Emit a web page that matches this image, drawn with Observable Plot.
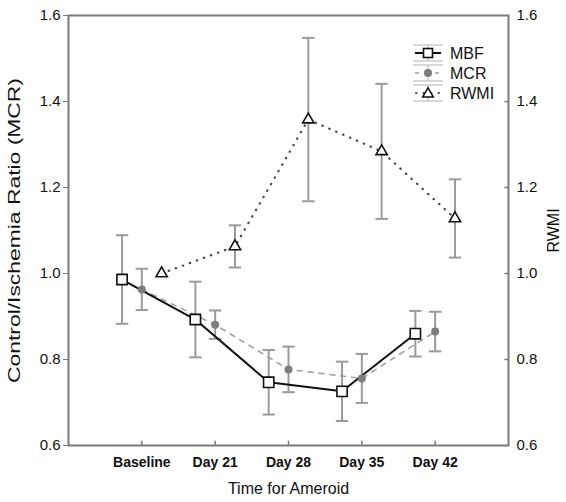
<!DOCTYPE html>
<html>
<head>
<meta charset="utf-8">
<script src="https://cdn.jsdelivr.net/npm/d3@7"></script>
<script src="https://cdn.jsdelivr.net/npm/@observablehq/plot@0.6"></script>
<style>
  html, body { margin: 0; padding: 0; background: #fff; }
  #chart { position: relative; width: 566px; height: 502px; font-family: "Liberation Sans", Arial, sans-serif; }
  #legend { position: absolute; left: 405px; top: 38px; }
</style>
</head>
<body>
<div id="chart"></div>
<script>
// ---- data ----
const categories = ["Baseline", "Day 21", "Day 28", "Day 35", "Day 42"];
const mbfMean  = [0.986, 0.893, 0.747, 0.726, 0.860];
const mbfErr   = [0.103, 0.088, 0.075, 0.069, 0.053];
const mcrMean  = [0.963, 0.881, 0.777, 0.756, 0.865];
const mcrErr   = [0.048, 0.033, 0.053, 0.057, 0.046];
const rwmiMean = [1.000, 1.063, 1.358, 1.284, 1.128];
const rwmiErr  = [0.000, 0.049, 0.190, 0.157, 0.091];
const yTicks   = [0.6, 0.8, 1.0, 1.2, 1.4, 1.6];
const seriesNames = ["MBF", "MCR", "RWMI"];
const xTitle = "Time for Ameroid";
const yTitleLeft = "Control/Ischemia Ratio (MCR)";
const yTitleRight = "RWMI";

// ---- build table ----
const offsets = {MBF: -0.27, MCR: 0, RWMI: 0.27};
function build(name, means, errs) {
  return categories.map((c, i) => ({
    series: name, cat: c, pos: i + 1 + offsets[name],
    y: means[i], lo: means[i] - errs[i], hi: means[i] + errs[i], err: errs[i]
  }));
}
const mbf = build("MBF", mbfMean, mbfErr);
const mcr = build("MCR", mcrMean, mcrErr);
const rwmi = build("RWMI", rwmiMean, rwmiErr);
const all = [...mbf, ...mcr, ...rwmi].filter(d => d.err > 0);
const tickPos = categories.map((c, i) => i + 1);
const capW = 0.085;
const errColor = "#9b9b9b";

const plot = Plot.plot({
  width: 566,
  height: 502,
  marginLeft: 68,
  marginRight: 58,
  marginTop: 15,
  marginBottom: 57,
  style: {fontFamily: "'Liberation Sans', Arial, sans-serif", background: "#fff"},
  x: {domain: [0, categories.length + 1]},
  y: {domain: [yTicks[0], yTicks[yTicks.length - 1]]},
  marks: [
    // error bars
    Plot.ruleX(all, {x: "pos", y1: "lo", y2: "hi", stroke: errColor, strokeWidth: 2}),
    Plot.link(all, {x1: d => d.pos - capW, x2: d => d.pos + capW, y1: "hi", y2: "hi", stroke: errColor, strokeWidth: 2}),
    Plot.link(all, {x1: d => d.pos - capW, x2: d => d.pos + capW, y1: "lo", y2: "lo", stroke: errColor, strokeWidth: 2}),
    // lines
    Plot.line(mcr, {x: "pos", y: "y", stroke: "#a0a0a0", strokeWidth: 1.6, strokeDasharray: "5,6"}),
    Plot.line(rwmi, {x: "pos", y: "y", stroke: "#4a4a4a", strokeWidth: 2.2, strokeDasharray: "0.5,7", strokeLinecap: "round"}),
    Plot.line(mbf, {x: "pos", y: "y", stroke: "#111", strokeWidth: 2}),
    // symbols
    Plot.dot(mcr, {x: "pos", y: "y", r: 4, fill: "#7d7d7d", stroke: "none"}),
    Plot.dot(mbf, {x: "pos", y: "y", symbol: "square", r: 5.8, fill: "#fff", stroke: "#111", strokeWidth: 1.6}),
    Plot.dot(rwmi, {x: "pos", y: "y", symbol: "triangle", r: 4.2, fill: "#fff", stroke: "#111", strokeWidth: 1.6}),
    // frame
    Plot.frame({stroke: "#7a7a7a", strokeWidth: 2}),
    // axes
    Plot.axisY({anchor: "left", ticks: yTicks, tickFormat: d => d.toFixed(1), tickSize: 5, tickPadding: 3, fontSize: 15, label: null, stroke: "#7a7a7a", color: "#111"}),
    Plot.axisY({anchor: "right", ticks: yTicks, tickFormat: d => d.toFixed(1), tickSize: 0, tickPadding: 8, fontSize: 15, label: null, color: "#111"}),
    Plot.ruleY(yTicks.slice(1, -1), {y: d => d, x1: categories.length + 1 - 0.05, x2: categories.length + 1, stroke: "#7a7a7a", strokeWidth: 1.5}),
    Plot.axisX({anchor: "bottom", ticks: tickPos, tickFormat: i => categories[i - 1], tickSize: 0, tickPadding: 12, fontSize: 14, fontWeight: "bold", label: null, color: "#111"}),
    Plot.ruleX(tickPos, {x: d => d, y1: yTicks[0], y2: yTicks[0] + 0.01, stroke: "#7a7a7a", strokeWidth: 1.5}),
    // titles
    Plot.text([xTitle], {frameAnchor: "bottom", dy: 48, fontSize: 16, fill: "#111"}),
    Plot.text([yTitleLeft], {frameAnchor: "left", textAnchor: "middle", rotate: -90, dx: -54, fontSize: 16, fill: "#111", className: "ytitle-left"}),
    Plot.text([yTitleRight], {frameAnchor: "right", textAnchor: "middle", rotate: -90, dx: 45, fontSize: 16, fill: "#111"})
  ]
});
document.getElementById("chart").appendChild(plot);
// the reference's left title is stretched along its length
d3.select(plot).selectAll(".ytitle-left text")
  .attr("textLength", 305).attr("lengthAdjust", "spacingAndGlyphs");

// ---- legend ----
const rows = [
  {name: seriesNames[0], kind: "MBF"},
  {name: seriesNames[1], kind: "MCR"},
  {name: seriesNames[2], kind: "RWMI"}
];
const lg = d3.select("#chart").append("svg")
  .attr("id", "legend").attr("width", 110).attr("height", 72)
  .style("font-family", "'Liberation Sans', Arial, sans-serif");
rows.forEach((r, i) => {
  const cy = 15 + i * 20;
  const g = lg.append("g").attr("transform", `translate(0,${cy})`);
  g.append("line").attr("x1", 8).attr("x2", 38).attr("y1", -8).attr("y2", -8).attr("stroke", "#c4c4c4").attr("stroke-width", 1.3);
  g.append("line").attr("x1", 8).attr("x2", 38).attr("y1", 8).attr("y2", 8).attr("stroke", "#c4c4c4").attr("stroke-width", 1.3);
  g.append("line").attr("x1", 23).attr("x2", 23).attr("y1", -8).attr("y2", 8).attr("stroke", "#c4c4c4").attr("stroke-width", 1.3);
  if (r.kind === "MBF") {
    g.append("line").attr("x1", 10).attr("x2", 36).attr("stroke", "#111").attr("stroke-width", 2);
    g.append("rect").attr("x", 18.5).attr("y", -4.5).attr("width", 9).attr("height", 9).attr("fill", "#fff").attr("stroke", "#111").attr("stroke-width", 1.6);
  } else if (r.kind === "MCR") {
    g.append("line").attr("x1", 10).attr("x2", 36).attr("stroke", "#a0a0a0").attr("stroke-width", 1.6).attr("stroke-dasharray", "4,6");
    g.append("circle").attr("cx", 23).attr("r", 4).attr("fill", "#7d7d7d");
  } else {
    g.append("line").attr("x1", 11).attr("x2", 36).attr("stroke", "#4a4a4a").attr("stroke-width", 2).attr("stroke-dasharray", "0.5,7").attr("stroke-linecap", "round");
    g.append("path").attr("d", d3.symbol(d3.symbolTriangle, 50)()).attr("transform", "translate(23,1)").attr("fill", "#fff").attr("stroke", "#111").attr("stroke-width", 1.5);
  }
  g.append("text").attr("x", 45).attr("y", 0).attr("dy", "0.36em").attr("font-size", 16).attr("fill", "#111").text(r.name);
});
</script>
</body>
</html>
